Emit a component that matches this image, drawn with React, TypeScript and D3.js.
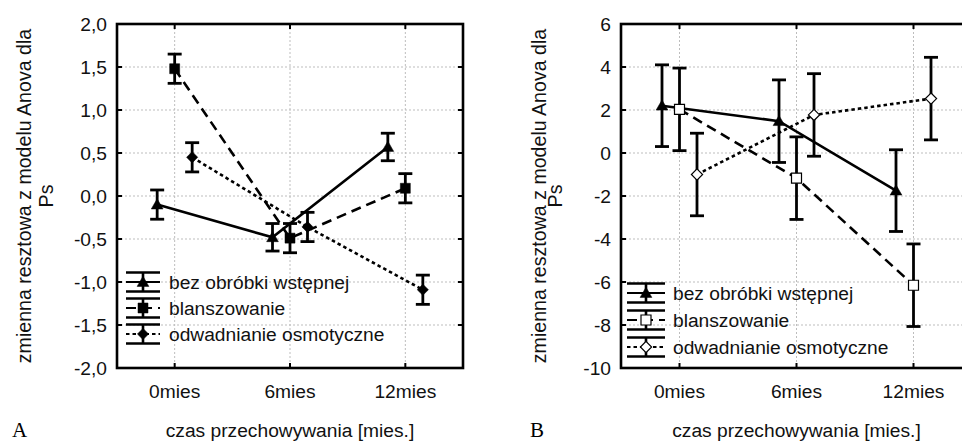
import React from "react";
import * as d3 from "d3";

// ---------- data ----------
const categories = ["0mies", "6mies", "12mies"];
const seriesNames = ["bez obróbki wstępnej", "blanszowanie", "odwadnianie osmotyczne"];

// Panel A
const aBezMean = [-0.1, -0.48, 0.57];
const aBezErr = [0.17, 0.16, 0.16];
const aBlanMean = [1.48, -0.49, 0.09];
const aBlanErr = [0.17, 0.17, 0.17];
const aOdwMean = [0.45, -0.36, -1.09];
const aOdwErr = [0.17, 0.17, 0.17];
const aYTicks = [-2, -1.5, -1, -0.5, 0, 0.5, 1, 1.5, 2];
const aYTickLabels = ["-2,0", "-1,5", "-1,0", "-0,5", "0,0", "0,5", "1,0", "1,5", "2,0"];

// Panel B
const bBezMean = [2.2, 1.48, -1.75];
const bBezErr = [1.9, 1.92, 1.9];
const bBlanMean = [2.03, -1.17, -6.15];
const bBlanErr = [1.92, 1.92, 1.92];
const bOdwMean = [-1.0, 1.77, 2.53];
const bOdwErr = [1.92, 1.92, 1.92];
const bYTicks = [-10, -8, -6, -4, -2, 0, 2, 4, 6];
const bYTickLabels = ["-10", "-8", "-6", "-4", "-2", "0", "2", "4", "6"];

const yTitle1 = "zmienna resztowa z modelu Anova dla";
const yTitle2 = "Ps";
const xTitle = "czas przechowywania [mies.]";

// ---------- styles ----------
const FONT = "'Liberation Sans', Arial, sans-serif";
const FS = 19.2;

type MarkerKind = "triangle" | "square" | "diamond";
const seriesStyle = [
  { dash: "none", marker: "triangle" as MarkerKind, offset: -17.5 },
  { dash: "10,6", marker: "square" as MarkerKind, offset: 0 },
  { dash: "3.5,3", marker: "diamond" as MarkerKind, offset: 17.5 },
];

function markerPath(kind: MarkerKind): string {
  if (kind === "triangle") return d3.symbol(d3.symbolTriangle, 60)()!;
  if (kind === "square") return d3.symbol(d3.symbolSquare, 100)()!;
  return d3.symbol(d3.symbolDiamond2, 80)()!;
}

function Marker({ kind, x, y, open }: { kind: MarkerKind; x: number; y: number; open: boolean }) {
  const filled = kind === "triangle" || !open;
  return (
    <path
      d={markerPath(kind)}
      transform={`translate(${x},${y})${kind === "triangle" ? " translate(0,1)" : ""}`}
      fill={filled ? "#000" : "#fff"}
      stroke="#000"
      strokeWidth={filled ? 0.5 : 1.2}
    />
  );
}

function HText({ x, y, children, anchor = "start", size = FS }: any) {
  return (
    <text x={x} y={y} textAnchor={anchor} fontFamily={FONT} fontSize={size} fill="#111">
      {children}
    </text>
  );
}

interface PanelProps {
  left: number;
  right: number;
  top: number;
  bottom: number;
  yDomain: [number, number];
  yTicks: number[];
  yTickLabels: string[];
  means: number[][];
  errs: number[][];
  openMarkers: boolean;
  titleX1: number;
  titleX2: number;
  legendX: number;
  legendY: number;
  legendStep: number;
  legendHalf: number;
  legendTextX: number;
  panelLetter: string;
  letterX: number;
}

function Panel(p: PanelProps) {
  const x = d3.scalePoint<string>().domain(categories).range([p.left, p.right]).padding(0.5);
  const y = d3.scaleLinear().domain(p.yDomain).range([p.bottom, p.top]);
  const midY = (p.top + p.bottom) / 2;
  const xMid = x(categories[1])!;

  return (
    <g>
      {/* grid */}
      {p.yTicks.slice(1, -1).map((t) => (
        <line key={"gy" + t} x1={p.left} x2={p.right} y1={y(t)} y2={y(t)} stroke="#bdbdbd" strokeWidth={1} strokeDasharray="2,2" />
      ))}
      {categories.map((c) => (
        <line key={"gx" + c} x1={x(c)} x2={x(c)} y1={p.top} y2={p.bottom} stroke="#bdbdbd" strokeWidth={1} strokeDasharray="2,2" />
      ))}

      {/* series lines */}
      {p.means.map((m, si) => {
        const st = seriesStyle[si];
        const line = d3
          .line<number>()
          .x((_, i) => x(categories[i])! + st.offset)
          .y((v) => y(v));
        return (
          <path key={"l" + si} d={line(m)!} fill="none" stroke="#000" strokeWidth={2.6} strokeDasharray={st.dash} />
        );
      })}

      {/* error bars */}
      {p.means.map((m, si) => {
        const st = seriesStyle[si];
        return m.map((v, i) => {
          const cx = x(categories[i])! + st.offset;
          const e = p.errs[si][i];
          const y1 = y(v + e);
          const y2 = y(v - e);
          return (
            <g key={"e" + si + "-" + i} stroke="#000" strokeWidth={2.8}>
              <line x1={cx} x2={cx} y1={y1} y2={y2} />
              <line x1={cx - 7} x2={cx + 7} y1={y1} y2={y1} />
              <line x1={cx - 7} x2={cx + 7} y1={y2} y2={y2} />
            </g>
          );
        });
      })}

      {/* markers */}
      {p.means.map((m, si) => {
        const st = seriesStyle[si];
        return m.map((v, i) => (
          <Marker key={"m" + si + "-" + i} kind={st.marker} x={x(categories[i])! + st.offset} y={y(v)} open={p.openMarkers} />
        ));
      })}

      {/* legend */}
      {seriesNames.map((name, si) => {
        const st = seriesStyle[si];
        const ly = p.legendY + si * p.legendStep;
        const x1 = p.legendX - p.legendHalf;
        const x2 = p.legendX + p.legendHalf;
        return (
          <g key={"lg" + si}>
            <line x1={x1} x2={x2} y1={ly - 9.5} y2={ly - 9.5} stroke="#000" strokeWidth={2.6} />
            <line x1={x1} x2={x2} y1={ly + 9.5} y2={ly + 9.5} stroke="#000" strokeWidth={2.6} />
            <line x1={p.legendX} x2={p.legendX} y1={ly - 9.5} y2={ly + 9.5} stroke="#000" strokeWidth={2.6} />
            <line x1={x1} x2={x2} y1={ly} y2={ly} stroke="#000" strokeWidth={2} strokeDasharray={st.dash} />
            <Marker kind={st.marker} x={p.legendX} y={ly} open={p.openMarkers} />
            <HText x={p.legendTextX} y={ly + 7}>{name}</HText>
          </g>
        );
      })}

      {/* frame */}
      <rect x={p.left} y={p.top} width={p.right - p.left} height={p.bottom - p.top} fill="none" stroke="#000" strokeWidth={2.6} />

      {/* inward ticks */}
      {p.yTicks.map((t) => (
        <g key={"ty" + t} stroke="#000" strokeWidth={2}>
          <line x1={p.left} x2={p.left + 5} y1={y(t)} y2={y(t)} />
          <line x1={p.right} x2={p.right - 5} y1={y(t)} y2={y(t)} />
        </g>
      ))}
      {categories.map((c) => (
        <g key={"tx" + c} stroke="#000" strokeWidth={2}>
          <line x1={x(c)} x2={x(c)} y1={p.bottom} y2={p.bottom - 5} />
          <line x1={x(c)} x2={x(c)} y1={p.top} y2={p.top + 5} />
        </g>
      ))}

      {/* y tick labels */}
      {p.yTicks.map((t, i) => (
        <HText key={"yl" + t} x={p.left - 10} y={y(t) + 6.8} anchor="end">
          {p.yTickLabels[i]}
        </HText>
      ))}

      {/* category labels */}
      {categories.map((c) => (
        <HText key={"cl" + c} x={x(c)} y={398} anchor="middle">
          {c}
        </HText>
      ))}

      {/* x title */}
      <HText x={xMid} y={436.5} anchor="middle">{xTitle}</HText>

      {/* y title */}
      <text transform={`translate(${p.titleX1},${midY}) rotate(-90)`} textAnchor="middle" fontFamily={FONT} fontSize={19.6} fill="#111">
        {yTitle1}
      </text>
      <text transform={`translate(${p.titleX2},${midY}) rotate(-90)`} textAnchor="middle" fontFamily={FONT} fontSize={19.6} fill="#111">
        {yTitle2}
      </text>

      {/* panel letter */}
      <text x={p.letterX} y={437} fontFamily="'Liberation Serif', 'Times New Roman', serif" fontSize={21} fill="#000">
        {p.panelLetter}
      </text>
    </g>
  );
}

export default function App() {
  return (
    <svg width={962} height={442} style={{ position: "absolute", left: 0, top: 0, background: "#fff" }}>
      <rect width={962} height={442} fill="#fff" />
      <Panel
        left={117}
        right={463}
        top={24}
        bottom={368}
        yDomain={[-2, 2]}
        yTicks={aYTicks}
        yTickLabels={aYTickLabels}
        means={[aBezMean, aBlanMean, aOdwMean]}
        errs={[aBezErr, aBlanErr, aOdwErr]}
        openMarkers={false}
        titleX1={31}
        titleX2={53}
        legendX={143}
        legendY={282}
        legendStep={26}
        legendHalf={17}
        legendTextX={169}
        panelLetter="A"
        letterX={12}
      />
      <Panel
        left={621}
        right={972}
        top={24}
        bottom={368}
        yDomain={[-10, 6]}
        yTicks={bYTicks}
        yTickLabels={bYTickLabels}
        means={[bBezMean, bBlanMean, bOdwMean]}
        errs={[bBezErr, bBlanErr, bOdwErr]}
        openMarkers={true}
        titleX1={546}
        titleX2={562}
        legendX={646}
        legendY={293}
        legendStep={27}
        legendHalf={19}
        legendTextX={673}
        panelLetter="B"
        letterX={530}
      />
    </svg>
  );
}
